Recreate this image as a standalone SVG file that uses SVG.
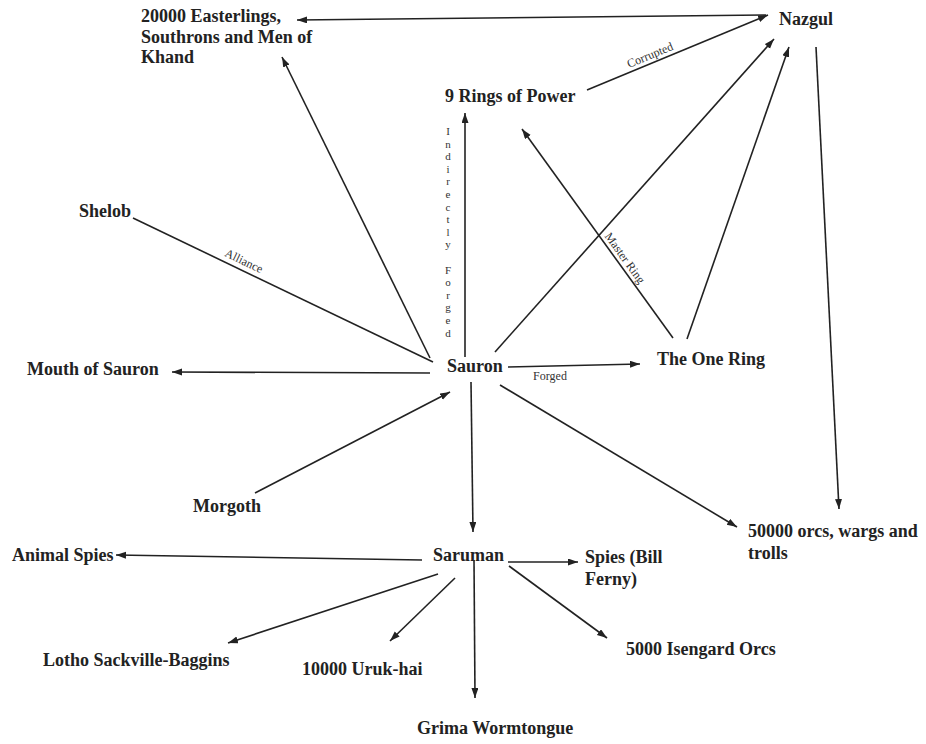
<svg xmlns="http://www.w3.org/2000/svg" width="926" height="744" viewBox="0 0 926 744">
<style>
.n{font-family:"Liberation Serif","Times New Roman",serif;font-weight:bold;font-size:18px;fill:#222}
.l{font-family:"Liberation Serif","Times New Roman",serif;font-size:12px;fill:#333}
.e line{stroke:#222;stroke-width:1.6;fill:none}
.e .a{marker-end:url(#ah)}
</style>
<defs>
<marker id="ah" markerUnits="userSpaceOnUse" markerWidth="11" markerHeight="8" refX="10" refY="3.5" orient="auto">
<path d="M0,0 L10,3.5 L0,7 z" fill="#222"/>
</marker>
</defs>
<rect width="926" height="744" fill="#fff"/>
<g id="connectors" class="e">
<line class="a" x1="766" y1="15" x2="297" y2="20"/>
<line class="a" x1="587" y1="90" x2="768" y2="15"/>
<line class="a" x1="495" y1="352" x2="774" y2="39"/>
<line class="a" x1="687" y1="339" x2="789" y2="47"/>
<line class="a" x1="816" y1="47" x2="839" y2="509"/>
<line class="a" x1="465" y1="357" x2="465" y2="113"/>
<line class="a" x1="673" y1="338" x2="522" y2="129"/>
<line class="a" x1="508" y1="367" x2="640" y2="364"/>
<line x1="133" y1="218" x2="433" y2="362"/>
<line class="a" x1="430" y1="358" x2="282" y2="57"/>
<line class="a" x1="430" y1="373" x2="172" y2="372"/>
<line class="a" x1="255" y1="493" x2="450" y2="392"/>
<line class="a" x1="471" y1="382" x2="473" y2="532"/>
<line class="a" x1="500" y1="385" x2="737" y2="527"/>
<line class="a" x1="422" y1="560" x2="116" y2="555"/>
<line class="a" x1="508" y1="562" x2="578" y2="562"/>
<line class="a" x1="509" y1="566" x2="607" y2="638"/>
<line class="a" x1="474" y1="560" x2="475" y2="698"/>
<line class="a" x1="455" y1="578" x2="390" y2="641"/>
<line class="a" x1="438" y1="574" x2="228" y2="643"/>
<text class="l" text-anchor="middle" transform="translate(650,55) rotate(-22.5)" dy="4">Corrupted</text>
<text class="l" text-anchor="middle" transform="translate(625,258) rotate(54)" dy="4">Master Ring</text>
<text class="l" text-anchor="middle" transform="translate(244,261) rotate(25.6)" dy="4">Alliance</text>
<text class="l" x="550" y="380" text-anchor="middle">Forged</text>
<text class="l" text-anchor="middle" style="font-size:11px"><tspan x="448" y="135">I</tspan><tspan x="448" dy="12.6">n</tspan><tspan x="448" dy="12.6">d</tspan><tspan x="448" dy="12.6">i</tspan><tspan x="448" dy="12.6">r</tspan><tspan x="448" dy="12.6">e</tspan><tspan x="448" dy="12.6">c</tspan><tspan x="448" dy="12.6">t</tspan><tspan x="448" dy="12.6">l</tspan><tspan x="448" dy="12.6">y</tspan><tspan x="448" dy="25.2">F</tspan><tspan x="448" dy="12.6">o</tspan><tspan x="448" dy="12.6">r</tspan><tspan x="448" dy="12.6">g</tspan><tspan x="448" dy="12.6">e</tspan><tspan x="448" dy="12.6">d</tspan></text>
</g>
<g id="easterlings"><text class="n" x="141" y="22">20000 Easterlings,<tspan x="141" y="43">Southrons and Men of</tspan><tspan x="141" y="63">Khand</tspan></text></g>
<g id="nazgul"><text class="n" x="779" y="25">Nazgul</text></g>
<g id="rings9"><text class="n" x="445" y="102">9 Rings of Power</text></g>
<g id="shelob"><text class="n" x="79" y="217">Shelob</text></g>
<g id="mouth"><text class="n" x="27" y="375">Mouth of Sauron</text></g>
<g id="sauron"><text class="n" x="447" y="372">Sauron</text></g>
<g id="onering"><text class="n" x="657" y="365">The One Ring</text></g>
<g id="morgoth"><text class="n" x="193" y="512">Morgoth</text></g>
<g id="orcs50000"><text class="n" x="748" y="537">50000 orcs, wargs and<tspan x="748" y="559">trolls</tspan></text></g>
<g id="animalspies"><text class="n" x="12" y="561">Animal Spies</text></g>
<g id="saruman"><text class="n" x="433" y="561">Saruman</text></g>
<g id="spies"><text class="n" x="585" y="563">Spies (Bill<tspan x="585" y="585">Ferny)</tspan></text></g>
<g id="isengard"><text class="n" x="626" y="655">5000 Isengard Orcs</text></g>
<g id="lotho"><text class="n" x="43" y="666">Lotho Sackville-Baggins</text></g>
<g id="urukhai"><text class="n" x="302" y="675">10000 Uruk-hai</text></g>
<g id="grima"><text class="n" x="417" y="734">Grima Wormtongue</text></g>
</svg>
